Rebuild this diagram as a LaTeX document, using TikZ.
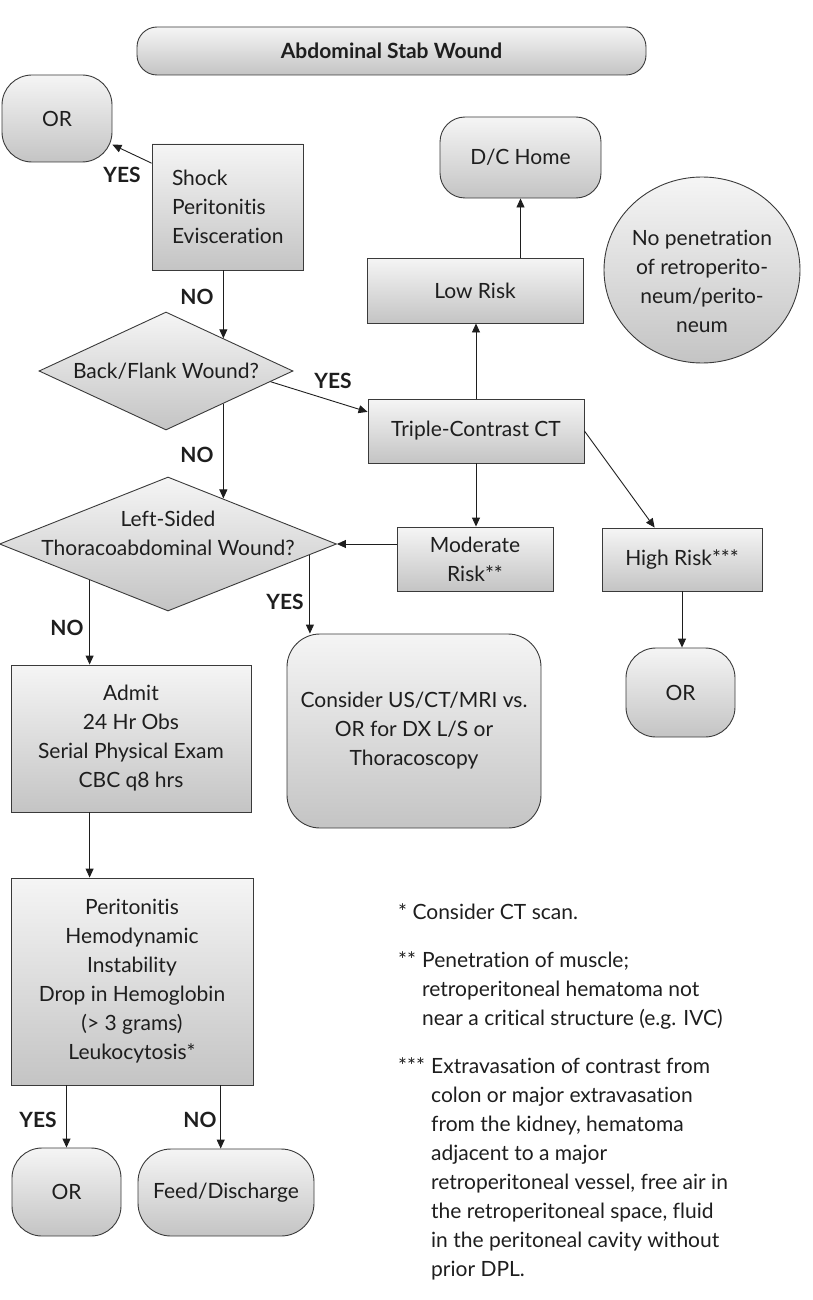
\documentclass[tikz,border=0pt]{standalone}
\usepackage{fontspec}
\setmainfont{Lato}[Ligatures=NoCommon]
\usetikzlibrary{shapes.geometric,arrows.meta,calc}

\definecolor{shadetop}{HTML}{F5F5F5}
\definecolor{shadebot}{HTML}{C4C4C4}
\definecolor{rim}{HTML}{3A3A3A}
\definecolor{ink}{HTML}{1E1E1E}

\def\txt{\fontsize{21}{29}\selectfont}

\begin{document}
\begin{tikzpicture}[x=1pt, y=-1pt, >={Triangle[length=9pt,width=8pt]},
    every node/.style={text=ink, font=\txt},
    shaded/.style={draw=rim, line width=0.9pt, top color=shadetop, bottom color=shadebot},
    box/.style={shaded, rectangle, inner sep=0pt, align=center},
    endbox/.style={box, rounded corners=#1},
    decide/.style={shaded, diamond, inner sep=0pt},
    tag/.style={font=\txt\bfseries, inner sep=0pt},
    link/.style={->, draw=ink, line width=0.9pt},
    ]
    \useasboundingbox (0,0) rectangle (812,1300);

    % top part
    \node[endbox=20pt, minimum width=509pt, minimum height=48pt, font=\txt\bfseries] (title) at (391.5,51) {Abdominal Stab Wound};
    \node[endbox=30pt, minimum width=110pt, minimum height=87pt] (or1) at (57,118.5) {OR};
    \node[box, minimum width=151pt, minimum height=126pt, text width=111pt, align=left] (shock) at (227.5,207) {Shock\\Peritonitis\\Evisceration};
    \node[decide, minimum width=254pt, minimum height=118pt] (back) at (166,371) {};
    \node (backtxt) at (back) {Back/Flank Wound?};
    \node[box, minimum width=216pt, minimum height=64pt] (ct) at (476,431) {Triple-Contrast CT};
    \node[box, minimum width=216pt, minimum height=65pt] (low) at (475,290.5) {Low Risk};
    \node[endbox=25pt, minimum width=161pt, minimum height=81pt] (home) at (520.5,157.5) {D/C Home};
    \node[shaded, ellipse, minimum width=196pt, minimum height=186pt, inner sep=0pt] (nopen) at (702,270) {};
    \node[align=center] (nopentxt) at (702,281) {No penetration\\of retroperito-\\neum/perito-\\neum};

    % middle part
    \node[decide, minimum width=337pt, minimum height=134pt] (left) at (168,544) {};
    \node[align=center] (lefttxt) at (168,533) {Left-Sided\\Thoracoabdominal Wound?};
    \node[box, minimum width=156pt, minimum height=64pt] (mod) at (475,559) {Moderate\\Risk**};
    \node[box, minimum width=160pt, minimum height=63pt] (high) at (682,559.5) {High Risk***};
    \node[endbox=30pt, minimum width=109pt, minimum height=89pt] (or3) at (680.5,692.5) {OR};
    \node[endbox=33pt, minimum width=254pt, minimum height=194pt] (consider) at (414,731) {Consider US/CT/MRI vs.\\OR for DX L/S or\\Thoracoscopy};
    \node[box, minimum width=240pt, minimum height=147pt] (admit) at (131,738.5) {Admit\\24 Hr Obs\\Serial Physical Exam\\CBC q8 hrs};

    % bottom part
    \node[box, minimum width=242pt, minimum height=207pt] (signs) at (132,981.5) {Peritonitis\\Hemodynamic\\Instability\\Drop in Hemoglobin\\(> 3 grams)\\Leukocytosis*};
    \node[endbox=30pt, minimum width=109pt, minimum height=88pt] (or4) at (66.5,1192) {OR};
    \node[endbox=33pt, minimum width=176pt, minimum height=87pt] (feed) at (226,1192.5) {Feed/Discharge};

    % yes/no
    \node[tag] (yes1) at (122,175) {YES};
    \node[tag] (no1) at (197,297) {NO};
    \node[tag] (yes2) at (333,381) {YES};
    \node[tag] (no2) at (197,455) {NO};
    \node[tag] (no3) at (67,628) {NO};
    \node[tag] (yes3) at (285,602) {YES};
    \node[tag] (yes4) at (38,1120) {YES};
    \node[tag] (no4) at (200,1120) {NO};

    % footnotes
    \node[anchor=base west, inner sep=0pt] (note1) at (398,919) {* Consider CT scan.};
    \node[anchor=base west, inner sep=0pt] (note2) at (398,967) {\begin{tabular}[t]{@{}l@{}l@{}}\makebox[24pt][l]{**} & Penetration of muscle;\\ & retroperitoneal hematoma not\\ & near a critical structure (e.g. IVC)\end{tabular}};
    \node[anchor=base west, inner sep=0pt] (note3) at (398,1073) {\begin{tabular}[t]{@{}l@{}l@{}}\makebox[33pt][l]{***} & Extravasation of contrast from\\ & colon or major extravasation\\ & from the kidney, hematoma\\ & adjacent to a major\\ & retroperitoneal vessel, free air in\\ & the retroperitoneal space, fluid\\ & in the peritoneal cavity without\\ & prior DPL.\end{tabular}};

    % points on the diamonds and boxes
    \coordinate (b1) at ($(back.north)!0.45!(back.east)$);
    \coordinate (b2) at ($(back.south)!0.45!(back.east)$);
    \coordinate (b3) at ($(back.east)!0.18!(back.south)$);
    \coordinate (l1) at ($(left.north)!0.325!(left.east)$);
    \coordinate (l2) at ($(left.west)!0.536!(left.south)$);
    \coordinate (l3) at ($(left.east)!0.16!(left.south)$);
    \coordinate (h1) at ($(high.north west)!0.33!(high.north east)$);
    \coordinate (f1) at ($(feed.north west)!0.47!(feed.north east)$);

    \draw[link] (shock.150) -- (or1);
    \draw[link] (shock.south -| b1) -- (b1);
    \draw[link] (b3) -- (ct.170);
    \draw[link] (b2) -- (b2 |- l1);
    \draw[link] (ct.north) -- (ct.north |- low.south);
    \draw[link] (low.north -| home.south) -- (home.south);
    \draw[link] (ct.south) -- (ct.south |- mod.north);
    \draw[link] (ct.east) -- (h1);
    \draw[link] (mod.west |- left.east) -- (left.east);
    \draw[link] (l2) -- (l2 |- admit.north);
    \draw[link] (l3) -- (l3 |- consider.north);
    \draw[link] (high.south) -- (high.south |- or3.north);
    \draw[link] (l2 |- admit.south) -- (l2 |- signs.north);
    \draw[link] (or4.north |- signs.south) -- (or4.north);
    \draw[link] (f1 |- signs.south) -- (f1);
\end{tikzpicture}
\end{document}
